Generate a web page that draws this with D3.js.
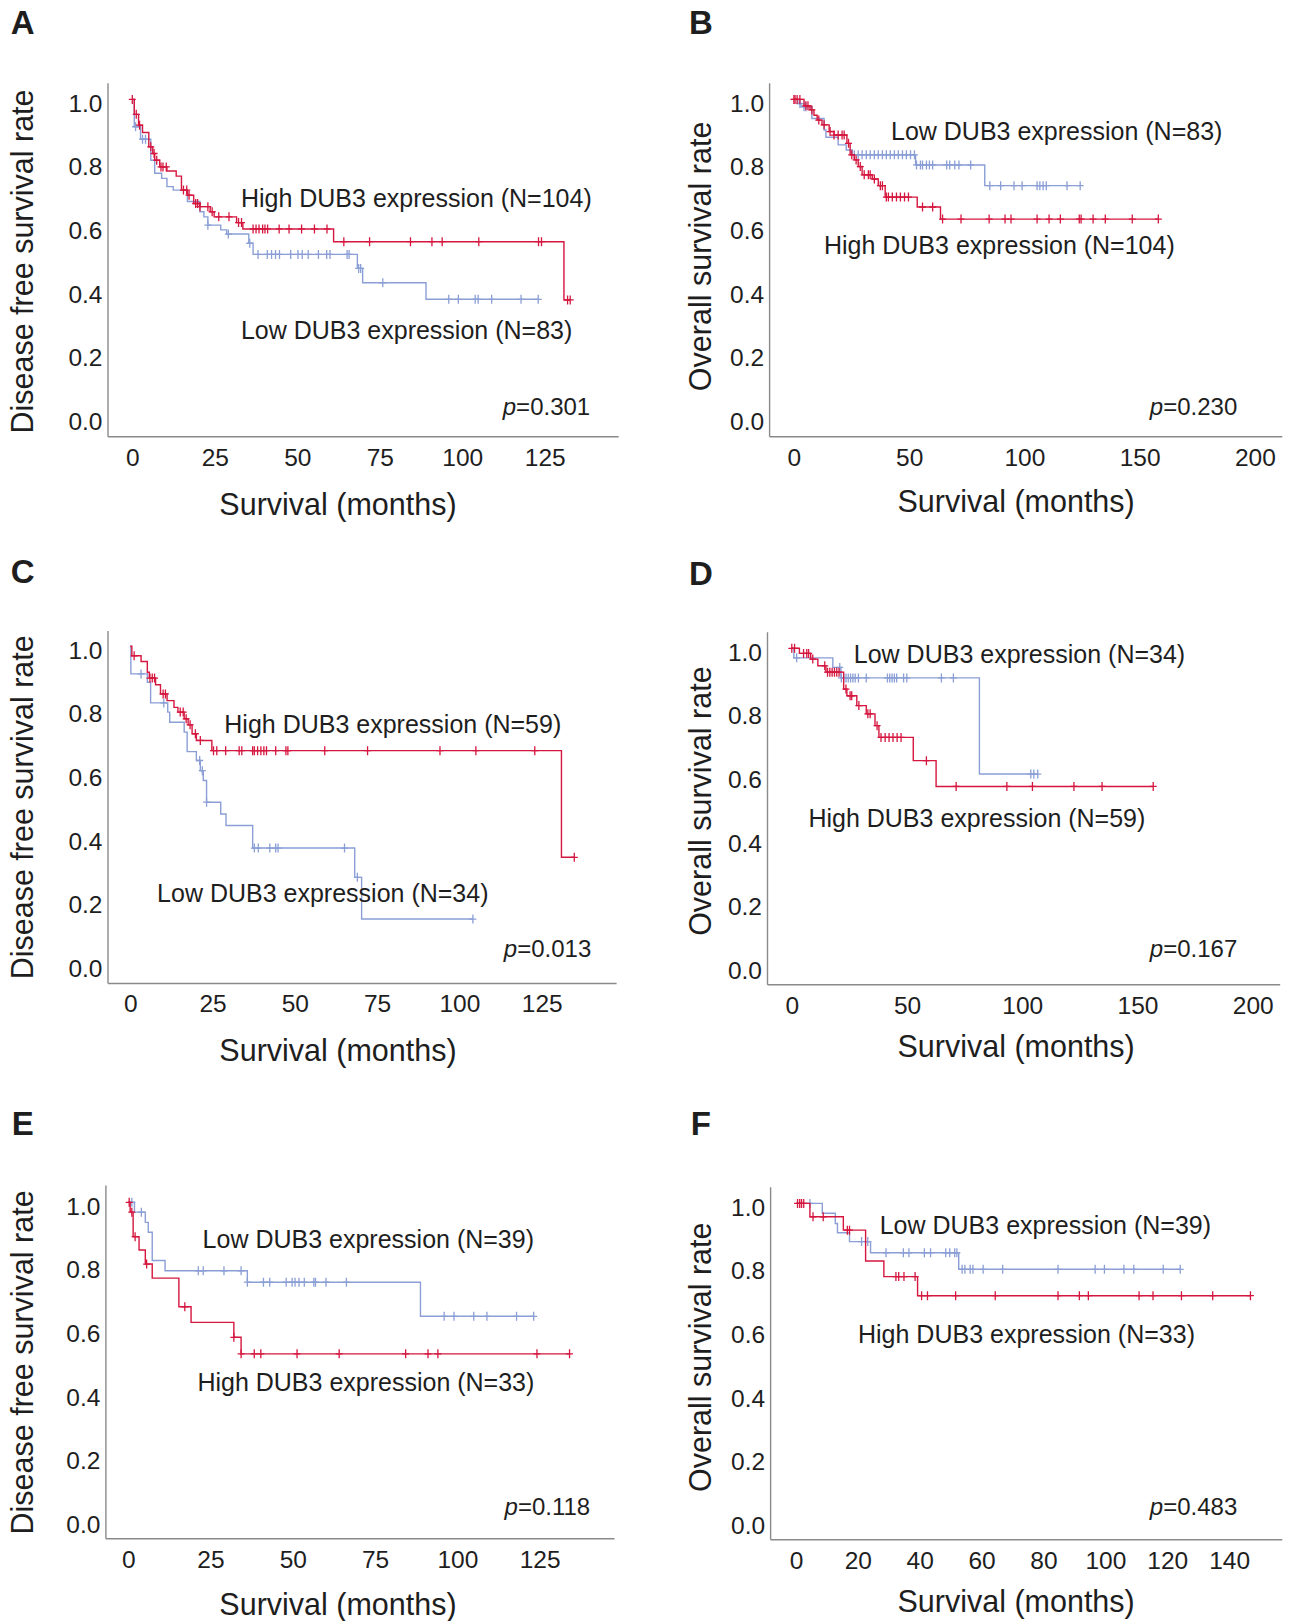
<!DOCTYPE html>
<html>
<head>
<meta charset="utf-8">
<script src="https://cdn.jsdelivr.net/npm/d3@7"></script>
<style>
  body { margin: 0; background: #fff; }
  text { font-family: "Liberation Sans", Arial, sans-serif; fill: #1e1e1e; }
</style>
</head>
<body>
<div id="chart"></div>
<script>
// ---- data: Kaplan-Meier steps [months, survival] and censor times (months) ----
const aHighSteps = [[0,1],[0.6,0.953],[1.9,0.919],[3.1,0.896],[5.0,0.851],[6.2,0.830],[6.8,0.809],[8.3,0.788],[10.5,0.775],[13.3,0.759],[14.9,0.715],[16.7,0.699],[18.6,0.673],[20.5,0.663],[23.6,0.647],[24.8,0.631],[31.6,0.613],[33.5,0.593],[61.0,0.553],[130.8,0.370]];
const aHighCensor = [0,1.2,2.2,5.6,6.6,7.4,8.7,9.3,10.3,15.5,16.5,17.2,19.2,19.8,20.5,22.9,24.2,26.2,29.3,32.2,33.1,36.6,37.5,38.4,39.5,40.2,41.0,44.5,47.5,51.3,55.2,59.0,64.1,71.9,84.3,90.8,93.9,105.0,123.1,124.0,131.9,132.7];
const aLowSteps = [[0,1],[0.6,0.914],[2.5,0.875],[5.6,0.809],[6.8,0.768],[8.9,0.752],[10.5,0.726],[12.4,0.715],[16.7,0.679],[20.5,0.647],[21.7,0.631],[22.9,0.605],[26.8,0.590],[28.6,0.577],[35.3,0.548],[36.6,0.513],[68.2,0.469],[69.8,0.424],[89.0,0.372]];
const aLowCensor = [1.0,3.1,4.0,22.9,29.1,35.6,38.1,40.9,42.2,43.4,44.6,48.0,50.2,51.5,53.3,56.4,58.9,59.9,65.1,65.7,68.6,69.2,75.9,95.9,98.8,103.9,104.8,108.9,117.8,123.0];

const bHighSteps = [[0,1],[4.4,0.98],[7.0,0.967],[8.7,0.95],[10.1,0.935],[12.2,0.92],[15.3,0.899],[17.4,0.888],[23.0,0.862],[24.4,0.826],[26.2,0.81],[27.9,0.789],[29.6,0.763],[34.0,0.75],[36.6,0.729],[39.6,0.693],[53.5,0.662],[63.6,0.624]];
const bHighCensor = [0,0.5,1.4,2.6,5.2,6.1,7.8,10.8,13.1,15.7,17.4,19.2,20.9,21.8,23.7,25.1,27.0,28.8,30.5,32.3,33.1,34.9,37.5,38.4,40.1,41.0,42.7,44.5,46.2,48.0,49.7,55.8,60.2,64.5,72.5,84.7,91.6,94.2,105.5,110.7,115.6,123.8,124.6,129.8,135.1,146.8,158.1];
const bLowSteps = [[0,1],[1.7,0.987],[3.1,0.977],[7.8,0.94],[13.1,0.904],[13.9,0.881],[19.2,0.857],[22.7,0.841],[25.3,0.826],[52.8,0.794],[82.8,0.729]];
const bLowCensor = [2.6,4.4,5.2,26.2,27.9,29.6,31.4,33.1,34.9,36.6,38.4,40.1,41.8,43.6,45.3,47.1,48.8,50.6,52.3,53.2,54.9,55.8,57.5,58.8,60.2,66.3,67.6,69.8,71.6,76.7,85.0,89.7,95.5,99.0,105.5,106.7,108.1,109.5,118.5,124.2];

const cHighSteps = [[0,1],[0.5,0.97],[3.3,0.952],[5.2,0.918],[5.8,0.9],[7.7,0.879],[9.2,0.85],[11.2,0.829],[13.3,0.808],[14.5,0.793],[16.4,0.772],[17.6,0.753],[18.8,0.725],[20.1,0.704],[24.8,0.672],[131.0,0.337]];
const cHighCensor = [1.2,6.0,6.7,7.4,10.0,10.7,15.2,16.1,17.0,18.2,19.8,21.3,25.3,26.3,29.0,33.1,33.9,37.2,37.7,38.7,39.7,40.6,41.4,44.2,47.3,47.9,59.1,72.1,94.1,105.0,122.9,134.9];
const cLowSteps = [[0,1],[0.2,0.913],[5.2,0.887],[6.2,0.822],[11.4,0.793],[12.0,0.761],[16.4,0.73],[17.3,0.669],[20.1,0.641],[21.3,0.609],[22.2,0.578],[23.2,0.51],[27.5,0.473],[29.1,0.437],[37.2,0.366],[68.2,0.274],[70.3,0.143]];
const cLowCensor = [3.3,10.2,21.1,21.9,23.2,37.7,38.9,42.4,44.2,44.9,65.1,69.0,104.1];

const dHighSteps = [[0,1],[3.3,0.984],[8.2,0.966],[11.3,0.945],[14.8,0.925],[22.5,0.872],[23.9,0.851],[28.2,0.82],[32.3,0.794],[36.1,0.757],[37.8,0.72],[52.7,0.647],[62.6,0.566]];
const dHighCensor = [0,1.2,5.1,6.5,7.3,9.1,14.3,15.5,16.5,17.5,18.5,19.5,20.5,23.5,25.3,26.0,29.1,33.0,34.0,37.0,38.7,40.5,42.2,43.9,45.7,47.4,58.4,71.3,93.3,104.4,122.4,134.6,156.8];
const dLowSteps = [[0,1],[0.9,0.97],[17.8,0.94],[21.3,0.907],[81.4,0.605]];
const dLowCensor = [2.1,20.8,21.5,22.5,23.5,24.5,25.5,26.5,27.5,28.9,32.3,41.5,42.5,43.5,44.5,45.5,48.5,49.9,64.9,70.1,103.7,105.0,106.7];

const eHighSteps = [[0,1],[0.6,0.969],[1.5,0.892],[3.3,0.85],[5.2,0.806],[7.3,0.762],[15.4,0.672],[19.1,0.623],[32.1,0.576],[34.3,0.524]];
const eHighCensor = [0.3,1.1,2.1,5.6,17.2,32.1,34.3,38.3,40.3,51.3,64.1,84.3,91.1,94.1,124.2,134.1];
const eLowSteps = [[0,1],[1.9,0.969],[5.2,0.937],[6.1,0.906],[7.3,0.817],[11.2,0.785],[36.2,0.749],[88.8,0.642]];
const eLowCensor = [1.1,4.0,21.3,22.8,29.1,34.3,36.2,41.1,43.0,48.0,49.8,50.7,51.9,53.5,56.4,56.9,60.1,66.3,96.0,99.0,105.0,109.0,118.0,123.2];

const fHighSteps = [[0,1],[4.5,0.958],[15.3,0.916],[22.5,0.819],[28.4,0.77],[39.3,0.71]];
const fHighCensor = [0.5,1.2,1.8,2.5,5.5,8.8,16.6,17.3,32.3,33.2,34.9,38.5,40.6,42.5,51.6,64.4,84.7,91.6,94.5,110.9,115.4,124.6,134.7,146.9];
const fLowSteps = [[0,1],[8.5,0.969],[12.7,0.937],[13.4,0.908],[17.3,0.88],[24.1,0.845],[52.6,0.793]];
const fLowCensor = [4.5,21.2,23.2,29.1,34.7,36.5,41.5,43.5,48.4,49.7,51.3,52.0,53.7,54.6,56.3,57.2,60.5,66.8,84.7,96.7,99.7,106.0,109.2,118.7,124.2];

// ---- labels ----
const panelIds = ["A", "B", "C", "D", "E", "F"];
const yTitles = ["Disease free survival rate", "Overall survival rate", "Disease free survival rate",
                 "Overall survival rate", "Disease free survival rate", "Overall survival rate"];
const highN = [104, 104, 59, 59, 33, 33];
const lowN = [83, 83, 34, 34, 39, 39];
const pValues = ["0.301", "0.230", "0.013", "0.167", "0.118", "0.483"];
const xTicksDFS = [0, 25, 50, 75, 100, 125];
const xTicksOS = [0, 50, 100, 150, 200];
const xTicksF = [0, 20, 40, 60, 80, 100, 120, 140];
const yTicks = [0, 0.2, 0.4, 0.6, 0.8, 1.0];

const highColor = "#d5173f", lowColor = "#8b9fd6";

// ---- layout (pixels) ----
const layout = [
  {left: 107.5, right: 618.2, top: 82.7, bottom: 436.2, x0: 132.3, xRef: 125, xRefPx: 544.8, y1: 99.4, y0: 417.7,
   letter: [22.7, 22.7], ytitle: [22.7, 261.5], xtitle: [338, 504.5], high: [240.9, 198.5], low: [240.9, 329.8], p: [590.2, 406.2]},
  {left: 769.1, right: 1281.8, top: 82.7, bottom: 436.2, x0: 793.9, xRef: 200, xRefPx: 1254.9, y1: 99.4, y0: 417.7,
   letter: [700.8, 22.7], ytitle: [700.8, 256.4], xtitle: [1016.1, 501.3], high: [823.9, 245], low: [891, 131.3], p: [1237.3, 406.2]},
  {left: 107.5, right: 616.1, top: 630.5, bottom: 983, x0: 130.2, xRef: 125, xRefPx: 541.7, y1: 646.2, y0: 964.6,
   letter: [22.7, 571.6], ytitle: [22.7, 807.3], xtitle: [338, 1050.2], high: [224.3, 724.6], low: [157.1, 893.1], p: [591.3, 948.9]},
  {left: 767, right: 1279.7, top: 631.7, bottom: 984.3, x0: 791.8, xRef: 200, xRefPx: 1252.8, y1: 648.3, y0: 966.6,
   letter: [700.8, 573.7], ytitle: [700.8, 801.1], xtitle: [1016.1, 1046.1], high: [808.4, 818.7], low: [853.8, 654.3], p: [1237.3, 948.9]},
  {left: 105.4, right: 614, top: 1185, bottom: 1538.3, x0: 128.2, xRef: 125, xRefPx: 539.6, y1: 1202.3, y0: 1520.7,
   letter: [22.7, 1123.6], ytitle: [22.7, 1362.4], xtitle: [338, 1604.3], high: [197.4, 1382.1], low: [202.6, 1239.4], p: [590.2, 1506.1]},
  {left: 770.1, right: 1281.8, top: 1186.7, bottom: 1539.3, x0: 796, xRef: 140, xRefPx: 1229.1, y1: 1203.4, y0: 1521.7,
   letter: [700.8, 1123.6], ytitle: [700.8, 1357.3], xtitle: [1016.1, 1601.2], high: [858, 1334.5], low: [879.7, 1225], p: [1237.3, 1506.1]}
];

const series = [
  [aHighSteps, aHighCensor, aLowSteps, aLowCensor, xTicksDFS],
  [bHighSteps, bHighCensor, bLowSteps, bLowCensor, xTicksOS],
  [cHighSteps, cHighCensor, cLowSteps, cLowCensor, xTicksDFS],
  [dHighSteps, dHighCensor, dLowSteps, dLowCensor, xTicksOS],
  [eHighSteps, eHighCensor, eLowSteps, eLowCensor, xTicksDFS],
  [fHighSteps, fHighCensor, fLowSteps, fLowCensor, xTicksF]
];

const svg = d3.select("#chart").append("svg")
  .attr("width", 1289)
  .attr("height", 1621);

const fontFam = '"Liberation Sans", Arial, sans-serif';

function survAt(steps, t) {
  let s = steps[0][1];
  steps.forEach(d => { if (d[0] <= t) s = d[1]; });
  return s;
}

function drawCurve(g, x, y, steps, censor, color) {
  const end = Math.max(steps[steps.length - 1][0], d3.max(censor));
  const pts = steps.concat([[end, steps[steps.length - 1][1]]]);
  const line = d3.line()
    .x(d => x(d[0]))
    .y(d => y(d[1]))
    .curve(d3.curveStepAfter);
  g.append("path")
    .attr("d", line(pts))
    .attr("fill", "none")
    .attr("stroke", color)
    .attr("stroke-width", 1.4);
  g.append("g")
    .selectAll("path")
    .data(censor)
    .enter()
    .append("path")
    .attr("transform", d => `translate(${x(d)},${y(survAt(steps, d))})`)
    .attr("d", "M-3.5,0H3.5M0,-4.5V4.5")
    .attr("stroke", color)
    .attr("stroke-width", 1.3);
}

layout.forEach((L, i) => {
  const [hiSteps, hiCensor, loSteps, loCensor, xTicks] = series[i];

  // scales through the tick positions, then widened to the axis lines
  const x = d3.scaleLinear().domain([0, L.xRef]).range([L.x0, L.xRefPx]);
  x.domain([x.invert(L.left), x.invert(L.right)]).range([L.left, L.right]);
  const y = d3.scaleLinear().domain([0, 1]).range([L.y0, L.y1]);
  y.domain([y.invert(L.bottom), y.invert(L.top)]).range([L.bottom, L.top]);

  const g = svg.append("g");

  g.append("g")
    .attr("transform", `translate(0,${L.bottom})`)
    .call(d3.axisBottom(x).tickValues(xTicks).tickSize(0).tickPadding(12).tickFormat(d3.format("d")))
    .call(a => a.attr("font-family", fontFam).attr("font-size", 24.5))
    .call(a => a.select(".domain").attr("stroke", "#8a8a8a").attr("stroke-width", 1.4))
    .call(a => a.selectAll("text").attr("fill", "#1e1e1e"));

  g.append("g")
    .attr("transform", `translate(${L.left},0)`)
    .call(d3.axisLeft(y).tickValues(yTicks).tickSize(0).tickPadding(5).tickFormat(d3.format(".1f")))
    .call(a => a.attr("font-family", fontFam).attr("font-size", 24.5))
    .call(a => a.select(".domain").attr("stroke", "#8a8a8a").attr("stroke-width", 1.4))
    .call(a => a.selectAll("text").attr("fill", "#1e1e1e").attr("y", 4));

  drawCurve(g, x, y, loSteps, loCensor, lowColor);
  drawCurve(g, x, y, hiSteps, hiCensor, highColor);

  // panel letter
  g.append("text")
    .attr("x", L.letter[0]).attr("y", L.letter[1]).attr("dy", "0.35em")
    .style("text-anchor", "middle")
    .style("font-weight", "bold")
    .style("font-size", 33)
    .text(panelIds[i]);

  // axis titles
  g.append("text")
    .attr("transform", `translate(${L.ytitle[0]},${L.ytitle[1]}) rotate(-90)`)
    .attr("dy", "0.35em")
    .style("text-anchor", "middle")
    .style("font-size", 30.5)
    .text(yTitles[i]);
  g.append("text")
    .attr("x", L.xtitle[0]).attr("y", L.xtitle[1]).attr("dy", "0.35em")
    .style("text-anchor", "middle")
    .style("font-size", 30.5)
    .text("Survival (months)");

  // group labels
  g.append("text")
    .attr("x", L.high[0]).attr("y", L.high[1]).attr("dy", "0.35em")
    .style("font-size", 25)
    .text(`High DUB3 expression (N=${highN[i]})`);
  g.append("text")
    .attr("x", L.low[0]).attr("y", L.low[1]).attr("dy", "0.35em")
    .style("font-size", 25)
    .text(`Low DUB3 expression (N=${lowN[i]})`);

  // p value
  const pt = g.append("text")
    .attr("x", L.p[0]).attr("y", L.p[1]).attr("dy", "0.35em")
    .style("text-anchor", "end")
    .style("font-size", 24);
  pt.append("tspan").style("font-style", "italic").text("p");
  pt.append("tspan").text("=" + pValues[i]);
});
</script>
</body>
</html>
